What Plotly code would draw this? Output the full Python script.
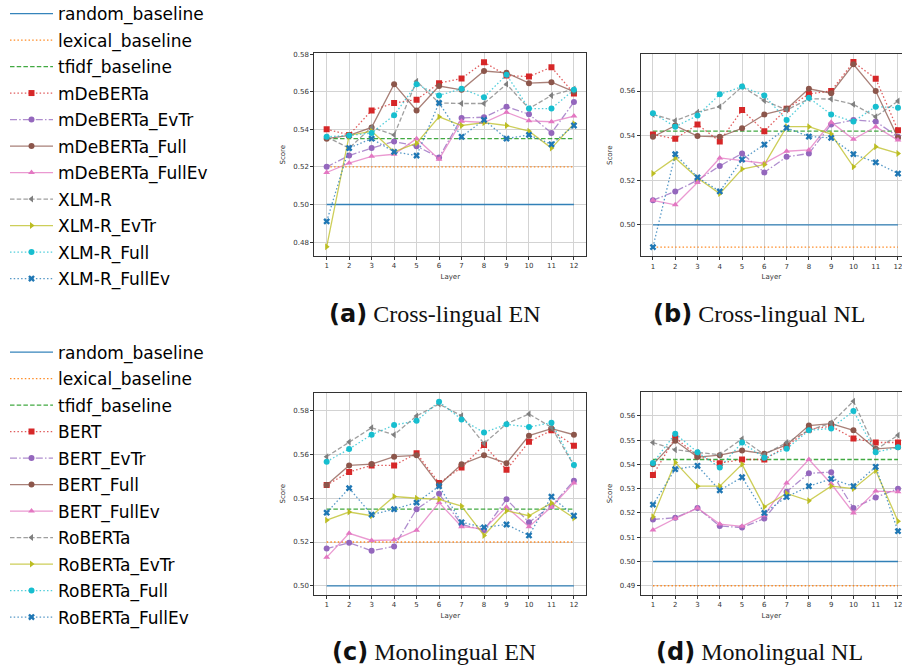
import plotly.graph_objects as go

layers = list(range(1, 13))

# ---------- (a) Cross-lingual EN ----------
a_random = 0.500
a_lexical = 0.520
a_tfidf = 0.535
a_mdeberta = [0.540, 0.537, 0.550, 0.554, 0.5557, 0.5645, 0.567, 0.5757, 0.5686, 0.568, 0.573, 0.559]
a_mdeberta_evtr = [0.520, 0.526, 0.530, 0.5335, 0.531, 0.525, 0.546, 0.5464, 0.552, 0.548, 0.538, 0.5545]
a_mdeberta_full = [0.535, 0.5367, 0.541, 0.564, 0.550, 0.563, 0.561, 0.571, 0.570, 0.5645, 0.565, 0.560]
a_mdeberta_fullev = [0.517, 0.522, 0.5256, 0.5267, 0.535, 0.524, 0.5443, 0.5436, 0.549, 0.5445, 0.544, 0.547]
a_xlmr = [0.536, 0.530, 0.541, 0.537, 0.5656, 0.554, 0.5537, 0.5537, 0.564, 0.551, 0.558, 0.5615]
a_xlmr_evtr = [0.4775, 0.5367, 0.539, 0.528, 0.5326, 0.5466, 0.542, 0.5435, 0.542, 0.539, 0.530, 0.543]
a_xlmr_full = [0.536, 0.5367, 0.538, 0.5475, 0.564, 0.558, 0.5615, 0.557, 0.569, 0.551, 0.551, 0.561]
a_xlmr_fullev = [0.491, 0.530, 0.535, 0.528, 0.526, 0.554, 0.536, 0.545, 0.535, 0.537, 0.532, 0.542]

# ---------- (b) Cross-lingual NL ----------
b_random = 0.500
b_lexical = 0.490
b_tfidf = 0.542
b_mdeberta = [0.5405, 0.5386, 0.545, 0.5374, 0.5515, 0.542, 0.552, 0.5587, 0.560, 0.573, 0.5655, 0.5424]
b_mdeberta_evtr = [0.511, 0.515, 0.520, 0.5264, 0.532, 0.5235, 0.5305, 0.532, 0.545, 0.547, 0.5463, 0.5395]
b_mdeberta_full = [0.5395, 0.5445, 0.5398, 0.5395, 0.5433, 0.5495, 0.552, 0.561, 0.559, 0.572, 0.560, 0.539]
b_mdeberta_fullev = [0.511, 0.509, 0.519, 0.530, 0.5288, 0.5276, 0.533, 0.5336, 0.546, 0.5384, 0.544, 0.538]
b_xlmr = [0.5495, 0.5467, 0.5505, 0.553, 0.562, 0.5557, 0.5515, 0.5565, 0.5564, 0.554, 0.5485, 0.5555]
b_xlmr_evtr = [0.523, 0.530, 0.521, 0.514, 0.525, 0.527, 0.544, 0.544, 0.5407, 0.526, 0.535, 0.532]
b_xlmr_full = [0.550, 0.544, 0.549, 0.5585, 0.562, 0.558, 0.547, 0.557, 0.5495, 0.5463, 0.553, 0.5525]
b_xlmr_fullev = [0.490, 0.5317, 0.5213, 0.515, 0.5293, 0.536, 0.5435, 0.5396, 0.539, 0.5317, 0.528, 0.523]

# ---------- (c) Monolingual EN ----------
c_random = 0.500
c_lexical = 0.520
c_tfidf = 0.535
c_bert = [0.546, 0.552, 0.555, 0.555, 0.5605, 0.547, 0.554, 0.5643, 0.553, 0.5658, 0.571, 0.564]
c_bert_evtr = [0.517, 0.5197, 0.516, 0.518, 0.535, 0.542, 0.528, 0.5254, 0.5395, 0.529, 0.5364, 0.548]
c_bert_full = [0.546, 0.555, 0.5556, 0.559, 0.5596, 0.546, 0.5555, 0.5596, 0.556, 0.5686, 0.5718, 0.569]
c_bert_fullev = [0.513, 0.524, 0.5207, 0.521, 0.5254, 0.538, 0.527, 0.526, 0.536, 0.527, 0.536, 0.547]
c_roberta = [0.559, 0.5657, 0.5722, 0.569, 0.5776, 0.583, 0.5777, 0.565, 0.574, 0.5785, 0.5724, 0.555]
c_roberta_evtr = [0.530, 0.5337, 0.532, 0.5408, 0.540, 0.5395, 0.5364, 0.523, 0.5343, 0.532, 0.5378, 0.531]
c_roberta_full = [0.5567, 0.5625, 0.569, 0.5734, 0.5754, 0.5841, 0.576, 0.570, 0.5738, 0.5725, 0.5745, 0.5552]
c_roberta_fullev = [0.5334, 0.5446, 0.5325, 0.535, 0.538, 0.5455, 0.529, 0.5267, 0.528, 0.523, 0.5407, 0.532]

# ---------- (d) Monolingual NL ----------
d_random = 0.500
d_lexical = 0.490
d_tfidf = 0.542
d_bert = [0.5356, 0.551, 0.5435, 0.5405, 0.542, 0.542, 0.5475, 0.5544, 0.5557, 0.5507, 0.549, 0.549]
d_bert_evtr = [0.5173, 0.518, 0.522, 0.5146, 0.514, 0.5177, 0.5287, 0.5363, 0.5368, 0.522, 0.5264, 0.530]
d_bert_full = [0.540, 0.5497, 0.543, 0.5438, 0.5457, 0.5444, 0.548, 0.556, 0.5568, 0.554, 0.5464, 0.547]
d_bert_fullev = [0.513, 0.5177, 0.522, 0.5154, 0.5145, 0.519, 0.5323, 0.542, 0.532, 0.520, 0.529, 0.5287]
d_roberta = [0.549, 0.546, 0.5449, 0.544, 0.5505, 0.544, 0.549, 0.554, 0.557, 0.566, 0.546, 0.552]
d_roberta_evtr = [0.5184, 0.5408, 0.531, 0.531, 0.540, 0.5225, 0.528, 0.525, 0.531, 0.530, 0.5375, 0.5166]
d_roberta_full = [0.5406, 0.5526, 0.545, 0.5387, 0.549, 0.5427, 0.5464, 0.554, 0.5548, 0.562, 0.545, 0.547]
d_roberta_fullev = [0.5234, 0.538, 0.5394, 0.5293, 0.5347, 0.520, 0.5266, 0.531, 0.534, 0.531, 0.539, 0.5125]

names_top = ["mDeBERTa", "mDeBERTa_EvTr", "mDeBERTa_Full", "mDeBERTa_FullEv",
             "XLM-R", "XLM-R_EvTr", "XLM-R_Full", "XLM-R_FullEv"]
names_bot = ["BERT", "BERT_EvTr", "BERT_Full", "BERT_FullEv",
             "RoBERTa", "RoBERTa_EvTr", "RoBERTa_Full", "RoBERTa_FullEv"]
baseline_names = ["random_baseline", "lexical_baseline", "tfidf_baseline"]

DOT = "1.5px,2.2px"
DASH = "4.5px,2.2px"
DASHDOT = "7px,2.2px,1.5px,2.2px"

# styles: (color, dash, symbol)
styles = [
    ("#d62728", DOT, "square"),
    ("#9467bd", DASHDOT, "circle"),
    ("#8c564b", "solid", "circle"),
    ("#e377c2", "solid", "triangle-up"),
    ("#7f7f7f", DASH, "triangle-left"),
    ("#bcbd22", "solid", "triangle-right"),
    ("#17becf", DOT, "circle"),
    ("#1f77b4", DOT, "x"),
]
base_styles = [("#1f77b4", "solid"), ("#ff7f0e", DOT), ("#2ca02c", DASH)]


def rgba(hexc, a):
    h = hexc.lstrip("#")
    r, g, b = int(h[0:2], 16), int(h[2:4], 16), int(h[4:6], 16)
    return f"rgba({r},{g},{b},{a})"


panels = [
    dict(xa="x", ya="y", base=[a_random, a_lexical, a_tfidf],
         series=[a_mdeberta, a_mdeberta_evtr, a_mdeberta_full, a_mdeberta_fullev,
                 a_xlmr, a_xlmr_evtr, a_xlmr_full, a_xlmr_fullev],
         names=names_top, legend="legend", show=True),
    dict(xa="x2", ya="y2", base=[b_random, b_lexical, b_tfidf],
         series=[b_mdeberta, b_mdeberta_evtr, b_mdeberta_full, b_mdeberta_fullev,
                 b_xlmr, b_xlmr_evtr, b_xlmr_full, b_xlmr_fullev],
         names=names_top, legend="legend", show=False),
    dict(xa="x3", ya="y3", base=[c_random, c_lexical, c_tfidf],
         series=[c_bert, c_bert_evtr, c_bert_full, c_bert_fullev,
                 c_roberta, c_roberta_evtr, c_roberta_full, c_roberta_fullev],
         names=names_bot, legend="legend2", show=True),
    dict(xa="x4", ya="y4", base=[d_random, d_lexical, d_tfidf],
         series=[d_bert, d_bert_evtr, d_bert_full, d_bert_fullev,
                 d_roberta, d_roberta_evtr, d_roberta_full, d_roberta_fullev],
         names=names_bot, legend="legend2", show=False),
]

fig = go.Figure()
for p in panels:
    gi = 0
    for bname, bval, (col, dash) in zip(baseline_names, p["base"], base_styles):
        fig.add_trace(go.Scatter(
            x=[layers[0], layers[-1]], y=[bval, bval], mode="lines", name=bname,
            line=dict(color=rgba(col, 0.9), dash=dash, width=1.3),
            xaxis=p["xa"], yaxis=p["ya"], showlegend=p["show"], legend=p["legend"],
            legendgroup=p["legend"] + f"{gi:02d}"))
        gi += 1
    for nm, vals, (col, dash, sym) in zip(p["names"], p["series"], styles):
        fig.add_trace(go.Scatter(
            x=layers, y=vals, mode="lines+markers", name=nm,
            line=dict(color=rgba(col, 0.75), dash=dash, width=1.3),
            marker=dict(color=col, symbol=sym, size=6, line=dict(width=0)),
            xaxis=p["xa"], yaxis=p["ya"], showlegend=p["show"], legend=p["legend"],
            legendgroup=p["legend"] + f"{gi:02d}"))
        gi += 1

W, H = 902, 672


def dom_x(l, r):
    return [l / W, min(r / W, 1.0)]


def dom_y(t, b):
    return [1 - b / H, 1 - t / H]


axis_common = dict(showline=True, mirror=True, linecolor="#333333", linewidth=1,
                   ticks="outside", ticklen=3, tickwidth=1, tickcolor="#333333",
                   showgrid=True, gridcolor="#d3d3d3", gridwidth=1, zeroline=False,
                   ticklabeloverflow="allow", automargin=False,
                   tickfont=dict(family="DejaVu Sans", size=7, color="#333333"))

xt = dict(tickmode="array", tickvals=layers, ticktext=[str(v) for v in layers],
          title=dict(text="Layer", font=dict(family="DejaVu Sans", size=7, color="#333333"), standoff=4))


def yt(vals, rng):
    return dict(tickmode="array", tickvals=vals, ticktext=[f"{v:.2f}" for v in vals], range=rng,
                title=dict(text="Score", font=dict(family="DejaVu Sans", size=7, color="#333333"), standoff=6))


legend_common = dict(xanchor="left", yanchor="top", bgcolor="rgba(0,0,0,0)",
                     font=dict(family="DejaVu Sans", size=17, color="#000000"),
                     tracegroupgap=1.4, itemwidth=43, traceorder="grouped")

fig.update_layout(
    width=W, height=H, margin=dict(l=0, r=0, t=0, b=0, autoexpand=False),
    paper_bgcolor="white", plot_bgcolor="white", showlegend=True,
    xaxis=dict(domain=dom_x(314.3, 586.3), anchor="y", range=[0.45, 12.55], **axis_common, **xt),
    yaxis=dict(domain=dom_y(53.3, 256), anchor="x", **axis_common,
               **yt([0.48, 0.50, 0.52, 0.54, 0.56, 0.58], [0.4726, 0.5804])),
    xaxis2=dict(domain=dom_x(640.7, 902), anchor="y2", range=[0.45, 12.18], **axis_common, **xt),
    yaxis2=dict(domain=dom_y(54, 256.3), anchor="x2", **axis_common,
                **yt([0.50, 0.52, 0.54, 0.56], [0.4859, 0.5766])),
    xaxis3=dict(domain=dom_x(314.3, 586.3), anchor="y3", range=[0.45, 12.55], **axis_common, **xt),
    yaxis3=dict(domain=dom_y(392.5, 595), anchor="x3", **axis_common,
                **yt([0.50, 0.52, 0.54, 0.56, 0.58], [0.4958, 0.5883])),
    xaxis4=dict(domain=dom_x(640.7, 902), anchor="y4", range=[0.45, 12.18], **axis_common, **xt),
    yaxis4=dict(domain=dom_y(392, 595), anchor="x4", **axis_common,
                **yt([0.49, 0.50, 0.51, 0.52, 0.53, 0.54, 0.55, 0.56], [0.4862, 0.5698])),
    legend=dict(x=5 / W, y=1 + 4 / H, **legend_common),
    legend2=dict(x=5 / W, y=1 - 334.5 / H, **legend_common),
)

captions = [("(a)", " Cross-lingual EN", 434, 314), ("(b)", " Cross-lingual NL", 759, 314),
            ("(c)", " Monolingual EN", 434, 652), ("(d)", " Monolingual NL", 759, 652)]
for tag, txt, cx, cy in captions:
    fig.add_annotation(
        x=cx / W, y=1 - cy / H, xref="paper", yref="paper", xanchor="center", yanchor="middle",
        showarrow=False,
        text=f"<span style='font-family:DejaVu Sans'><b>{tag}</b></span>{txt}",
        font=dict(family="Liberation Serif", size=24, color="#111111"))

fig.write_html("out.html")
